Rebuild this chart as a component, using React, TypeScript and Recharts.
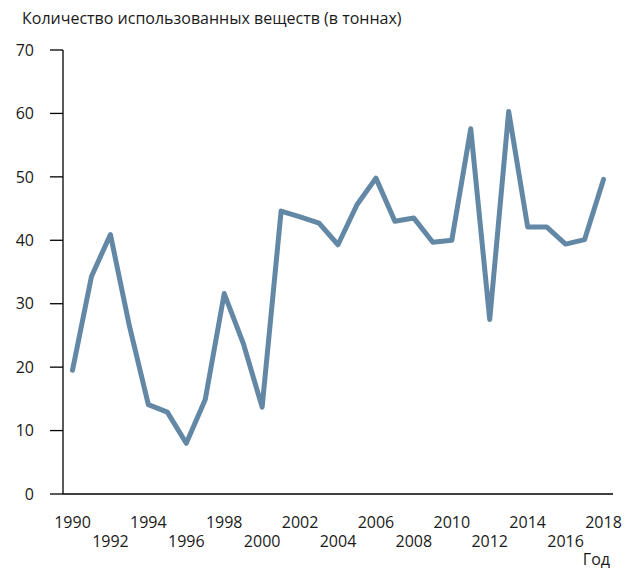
import { LineChart, Line, XAxis, YAxis } from "recharts"

const years = [
  1990, 1991, 1992, 1993, 1994, 1995, 1996, 1997, 1998, 1999,
  2000, 2001, 2002, 2003, 2004, 2005, 2006, 2007, 2008, 2009,
  2010, 2011, 2012, 2013, 2014, 2015, 2016, 2017, 2018,
]
const amounts = [
  19.5, 34.3, 40.9, 26.5, 14.1, 12.9, 8.0, 14.9, 31.6, 23.8,
  13.7, 44.6, 43.7, 42.7, 39.3, 45.6, 49.8, 43.0, 43.5, 39.7,
  40.0, 57.6, 27.5, 60.3, 42.1, 42.1, 39.4, 40.1, 49.6,
]
const yTicks = [0, 10, 20, 30, 40, 50, 60, 70]

const titleText = "Количество использованных веществ (в тоннах)"
const xLabel = "Год"

const data = years.map((y, i) => ({ year: y, value: amounts[i] }))

const FONT = "'Open Sans', sans-serif"
const TEXT = "#1a1a1a"

const YearTick = ({ x, y, payload }: any) => {
  const yr = Number(payload.value)
  if ((yr - 1990) % 2 !== 0) return null
  const upper = (yr - 1990) % 4 === 0
  return (
    <text
      x={x}
      y={y + (upper ? 20 : 39)}
      textAnchor="middle"
      dominantBaseline="central"
      fontFamily={FONT}
      fontSize={16}
      fill={TEXT}
    >
      {yr}
    </text>
  )
}

export default function App() {
  return (
    <div style={{ position: "relative", width: 629, height: 571, background: "#fff" }}>
      <style>{"body{margin:0}"}</style>
      <LineChart
        width={629}
        height={571}
        data={data}
        margin={{ top: 50, right: 16, bottom: 0, left: 0 }}
      >
        <XAxis
          dataKey="year"
          type="category"
          interval={0}
          padding={{ left: 9.5, right: 9.5 }}
          tickLine={false}
          axisLine={{ stroke: "#000", strokeWidth: 1.3 }}
          tick={<YearTick />}
          height={77}
        />
        <YAxis
          domain={[0, 70]}
          ticks={yTicks}
          width={63}
          tickSize={13}
          tickMargin={16}
          axisLine={{ stroke: "#000", strokeWidth: 1.3 }}
          tickLine={{ stroke: "#000", strokeWidth: 1.3 }}
          tick={{ fontFamily: FONT, fontSize: 16, fill: TEXT }}
        />
        <Line
          dataKey="value"
          stroke="#6388a6"
          strokeWidth={5}
          strokeLinejoin="round"
          strokeLinecap="round"
          dot={false}
          isAnimationActive={false}
        />
        <text x={22} y={18} dominantBaseline="central" fontFamily={FONT} fontSize={16} fill={TEXT}>
          {titleText}
        </text>
        <text x={610} y={559} textAnchor="end" dominantBaseline="central" fontFamily={FONT} fontSize={16} fill={TEXT}>
          {xLabel}
        </text>
      </LineChart>
    </div>
  )
}
